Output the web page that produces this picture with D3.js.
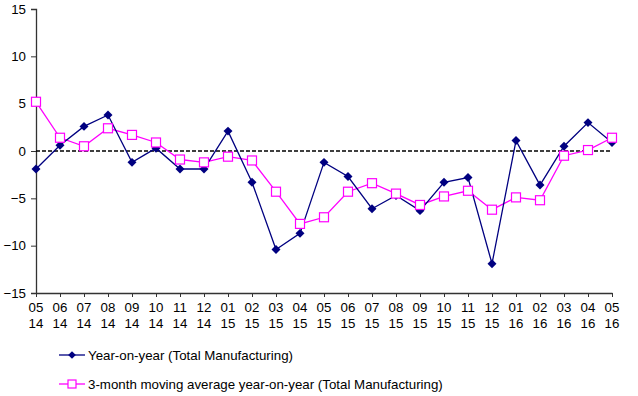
<!DOCTYPE html>
<head>
  <meta charset="utf-8">
  <script src="https://d3js.org/d3.v7.min.js"></script>
  <style type="text/css">
    body { margin: 0; background: #fff; }
    svg text { font-family: "Liberation Sans", Arial, sans-serif; fill: #000; }
  </style>
</head>

<body>
  <script type="text/javascript">
    // month / year tick labels
    var months = ["05","06","07","08","09","10","11","12","01","02","03","04","05","06","07","08","09","10","11","12","01","02","03","04","05"];
    var years  = ["14","14","14","14","14","14","14","14","15","15","15","15","15","15","15","15","15","15","15","15","16","16","16","16","16"];

    // Year-on-year (Total Manufacturing)
    var yoy = [-1.9, 0.6, 2.6, 3.8, -1.2, 0.3, -1.9, -1.9, 2.1, -3.3, -10.4, -8.7, -1.2, -2.7, -6.1, -4.7, -6.3, -3.3, -2.8, -11.9, 1.1, -3.6, 0.5, 3.0, 0.9];
    // 3-month moving average year-on-year
    var ma3 = [5.2, 1.4, 0.5, 2.4, 1.7, 0.9, -0.9, -1.2, -0.6, -1.0, -4.3, -7.7, -7.0, -4.3, -3.4, -4.5, -5.7, -4.8, -4.2, -6.2, -4.9, -5.2, -0.5, 0.1, 1.4];

    var yTicks = [-15, -10, -5, 0, 5, 10, 15];

    var width = 638, height = 396;
    var navy = "#000080", pink = "#ff00ff";
    var fs = "13.3px";

    var svg = d3.select("body").append("svg")
      .attr("width", width)
      .attr("height", height);

    var idx = d3.range(months.length);

    var x = d3.scalePoint()
      .domain(idx)
      .range([36, 612]);

    var y = d3.scaleLinear()
      .domain([-15, 15])
      .range([293, 9]);

    // y axis
    var yAxis = svg.append("g")
      .attr("transform", "translate(36,0)")
      .call(d3.axisLeft(y).tickValues(yTicks).tickSize(5).tickPadding(5));
    yAxis.select(".domain").attr("stroke", "#333").attr("stroke-width", 1.3);
    yAxis.selectAll(".tick line").attr("stroke", "#333");
    yAxis.selectAll("text").style("font-size", fs);

    // x axis
    var xAxis = svg.append("g")
      .attr("transform", "translate(0,293)")
      .call(d3.axisBottom(x).tickSize(4).tickSizeOuter(0).tickFormat(""));
    xAxis.select(".domain").attr("stroke", "#333").attr("stroke-width", 1.3);
    xAxis.selectAll(".tick line").attr("stroke", "#333");

    var lbl = svg.append("g").selectAll("text")
      .data(idx)
      .enter().append("text")
      .attr("x", function(d) { return x(d); })
      .attr("text-anchor", "middle")
      .style("font-size", fs);
    lbl.append("tspan").attr("x", function(d) { return x(d); }).attr("y", 312).text(function(d) { return months[d]; });
    lbl.append("tspan").attr("x", function(d) { return x(d); }).attr("y", 328).text(function(d) { return years[d]; });

    // zero line
    svg.append("line")
      .attr("x1", x(0)).attr("x2", x(idx.length - 1))
      .attr("y1", y(0)).attr("y2", y(0))
      .attr("stroke", "#000")
      .attr("stroke-width", 1.3)
      .attr("stroke-dasharray", "4,2");

    var line = d3.line()
      .x(function(d, i) { return x(i); })
      .y(function(d) { return y(d); });

    // diamond = square turned 45 degrees
    var diamond = d3.symbol().type(d3.symbolSquare).size(40);

    // pink series
    svg.append("path")
      .datum(ma3)
      .attr("fill", "none")
      .attr("stroke", pink)
      .attr("stroke-width", 1.3)
      .attr("d", line);

    // navy series
    svg.append("path")
      .datum(yoy)
      .attr("fill", "none")
      .attr("stroke", navy)
      .attr("stroke-width", 1.3)
      .attr("d", line);

    svg.append("g").selectAll("path")
      .data(yoy)
      .enter().append("path")
      .attr("transform", function(d, i) { return "translate(" + x(i) + "," + y(d) + ") rotate(45)"; })
      .attr("d", diamond)
      .attr("fill", navy);

    svg.append("g").selectAll("rect")
      .data(ma3)
      .enter().append("rect")
      .attr("x", function(d, i) { return x(i) - 4.5; })
      .attr("y", function(d) { return y(d) - 4.5; })
      .attr("width", 9)
      .attr("height", 9)
      .attr("fill", "#fff")
      .attr("stroke", pink)
      .attr("stroke-width", 1.2);

    // legend
    var legend = [
      { name: "Year-on-year (Total Manufacturing)", color: navy, mark: "diamond", y: 355 },
      { name: "3-month moving average year-on-year (Total Manufacturing)", color: pink, mark: "square", y: 384 }
    ];

    var lg = svg.append("g").selectAll("g")
      .data(legend)
      .enter().append("g")
      .attr("transform", function(d) { return "translate(0," + d.y + ")"; });

    lg.append("line")
      .attr("x1", 59).attr("x2", 85)
      .attr("stroke", function(d) { return d.color; })
      .attr("stroke-width", 1.3);

    lg.filter(function(d) { return d.mark === "diamond"; })
      .append("path")
      .attr("transform", "translate(72,0) rotate(45)")
      .attr("d", d3.symbol().type(d3.symbolSquare).size(30))
      .attr("fill", navy);

    lg.filter(function(d) { return d.mark === "square"; })
      .append("rect")
      .attr("x", 68).attr("y", -4).attr("width", 8).attr("height", 8)
      .attr("fill", "#fff")
      .attr("stroke", pink)
      .attr("stroke-width", 1.2);

    lg.append("text")
      .attr("x", 88)
      .attr("dy", "0.35em")
      .style("font-size", fs)
      .text(function(d) { return d.name; });
  </script>
</body>
